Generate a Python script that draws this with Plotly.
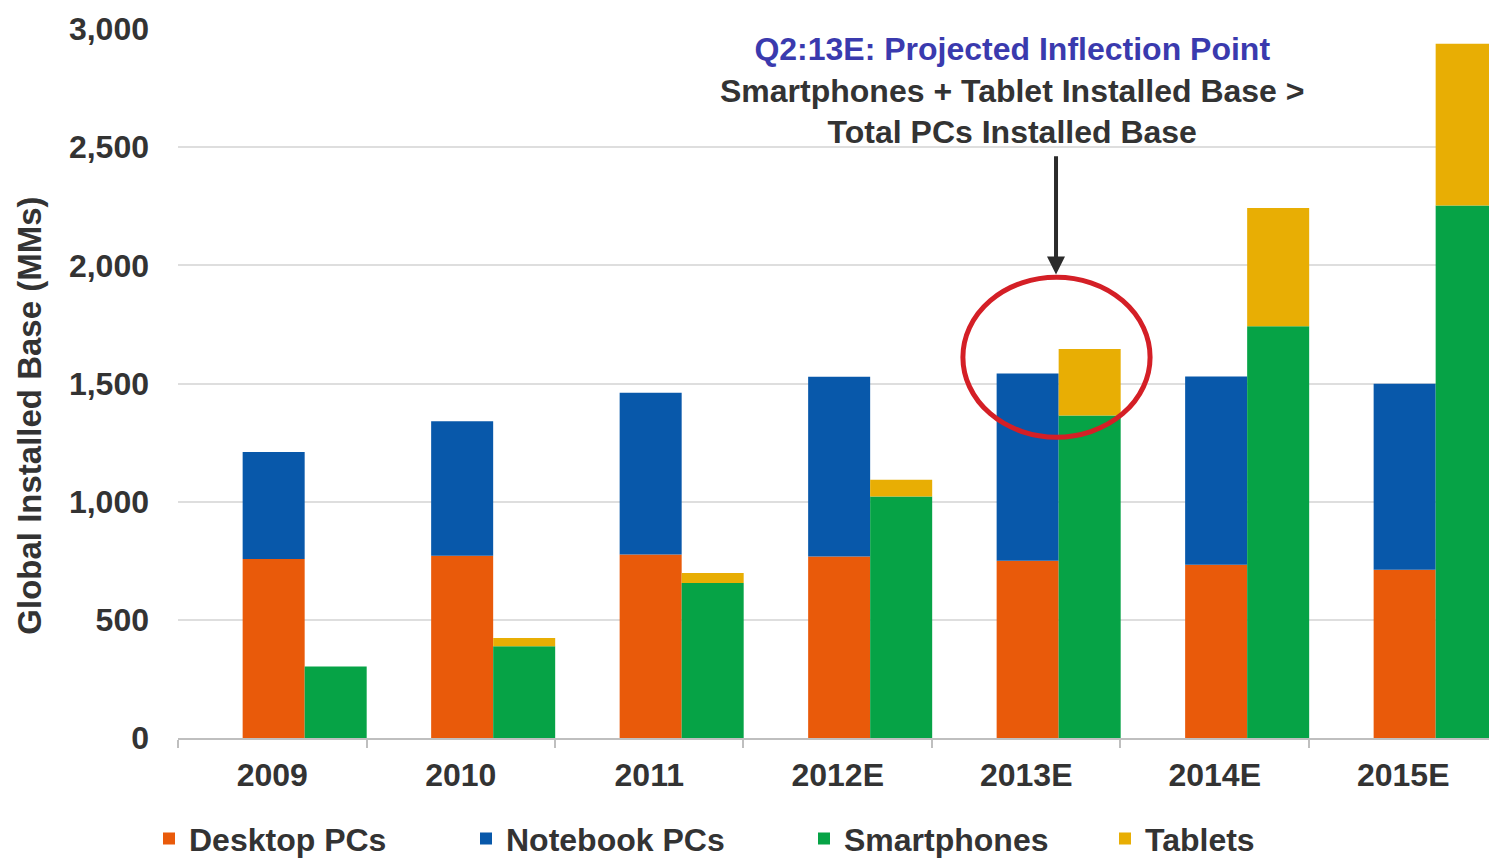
import plotly.graph_objects as go

# Global installed base, millions of units
years = ["2009", "2010", "2011", "2012E", "2013E", "2014E", "2015E"]
desktop_pcs = [757, 771, 776, 768, 750, 733, 712]
notebook_pcs = [453, 569, 685, 761, 792, 797, 787]
smartphones = [303, 388, 656, 1022, 1365, 1742, 2253]
tablets = [0, 35, 42, 71, 281, 501, 685]

y_ticks = [0, 500, 1000, 1500, 2000, 2500, 3000]
y_tick_text = ["0", "500", "1,000", "1,500", "2,000", "2,500", "3,000"]

FONT = "Liberation Sans"
TEXT = "#333333"
SIZE = 32

BAR_W = 0.329
PC_OFFSET = -0.157
MOBILE_OFFSET = PC_OFFSET + BAR_W

pc_base = [0] * len(years)
notebook_base = desktop_pcs
mobile_base = [0] * len(years)
tablet_base = smartphones

fig = go.Figure()
series = [
    ("Desktop PCs", desktop_pcs, pc_base, PC_OFFSET, "#E95A0A", "legend"),
    ("Notebook PCs", notebook_pcs, notebook_base, PC_OFFSET, "#0858AA", "legend2"),
    ("Smartphones", smartphones, mobile_base, MOBILE_OFFSET, "#06A346", "legend3"),
    ("Tablets", tablets, tablet_base, MOBILE_OFFSET, "#E8AE04", "legend4"),
]
for name, vals, base, off, color, leg in series:
    fig.add_trace(go.Bar(
        x=years, y=vals, base=base, name=name,
        width=BAR_W, offset=off,
        marker=dict(color=color, line=dict(width=0)),
        legend=leg,
    ))

# Each legend entry gets its own legend box so they sit along the bottom
legend_x = [(149 - 178) / 1311, (466 - 178) / 1311, (804 - 178) / 1311, (1105 - 178) / 1311]
legend_common = dict(
    orientation="h", yanchor="middle", y=(738.3 - 839) / 709, xanchor="left",
    font=dict(family=FONT, size=SIZE, color=TEXT, weight="bold"),
    bgcolor="rgba(0,0,0,0)", borderwidth=0, tracegroupgap=0, itemwidth=30,
)

fig.update_layout(
    width=1489, height=862,
    margin=dict(l=178, r=0, t=29, b=124, autoexpand=False),
    paper_bgcolor="white", plot_bgcolor="white",
    barmode="overlay",
    showlegend=True,
    legend=dict(x=legend_x[0], **legend_common),
    legend2=dict(x=legend_x[1], **legend_common),
    legend3=dict(x=legend_x[2], **legend_common),
    legend4=dict(x=legend_x[3], **legend_common),
    xaxis=dict(
        range=[-0.5, 6.455], automargin=False,
        tickson="boundaries", ticks="outside", ticklen=8, tickcolor="#BFBFBF", tickwidth=2,
        showline=True, linecolor="#BFBFBF", linewidth=2,
        showgrid=False, ticklabelstandoff=8,
        tickfont=dict(family=FONT, size=SIZE, color=TEXT, weight="bold"),
    ),
    yaxis=dict(
        range=[0, 3000], automargin=False,
        tickvals=y_ticks, ticktext=y_tick_text,
        showgrid=True, gridcolor="#DEDEDE", gridwidth=2,
        showline=False, zeroline=False, ticks="",
        ticklabelstandoff=28,
        tickfont=dict(family=FONT, size=SIZE, color=TEXT, weight="bold"),
    ),
)

# Axis title
fig.add_annotation(
    text="Global Installed Base (MMs)", textangle=-90,
    xref="paper", yref="paper", x=(30 - 178) / 1311, y=(738.3 - 416) / 709,
    xanchor="center", yanchor="middle", showarrow=False,
    font=dict(family=FONT, size=SIZE + 1, color=TEXT, weight="bold"),
)

# Callout text
fig.add_annotation(
    text=("<span style='color:#3A3AAE'>Q2:13E: Projected Inflection Point</span><br>"
          "Smartphones + Tablet Installed Base ><br>Total PCs Installed Base"),
    xref="paper", yref="paper", x=(1012 - 178) / 1311, y=(738.3 - 91) / 709,
    xanchor="center", yanchor="middle", showarrow=False, align="center",
    font=dict(family=FONT, size=SIZE, color=TEXT, weight="bold"),
)

# Arrow pointing at the 2013E crossover
fig.add_annotation(
    x=4.158, y=1961, ax=4.158, ay=2468, xref="x", yref="y", axref="x", ayref="y",
    text="", showarrow=True, arrowhead=2, arrowsize=0.9, arrowwidth=4,
    arrowcolor="#2B2B2B", standoff=0,
)

# Red ring around the 2013E bars
fig.add_shape(
    type="circle", xref="x", yref="y",
    x0=3.664, x1=4.657, y0=1273, y1=1950,
    line=dict(color="#D41F26", width=5),
)

fig.write_html("out.html")
